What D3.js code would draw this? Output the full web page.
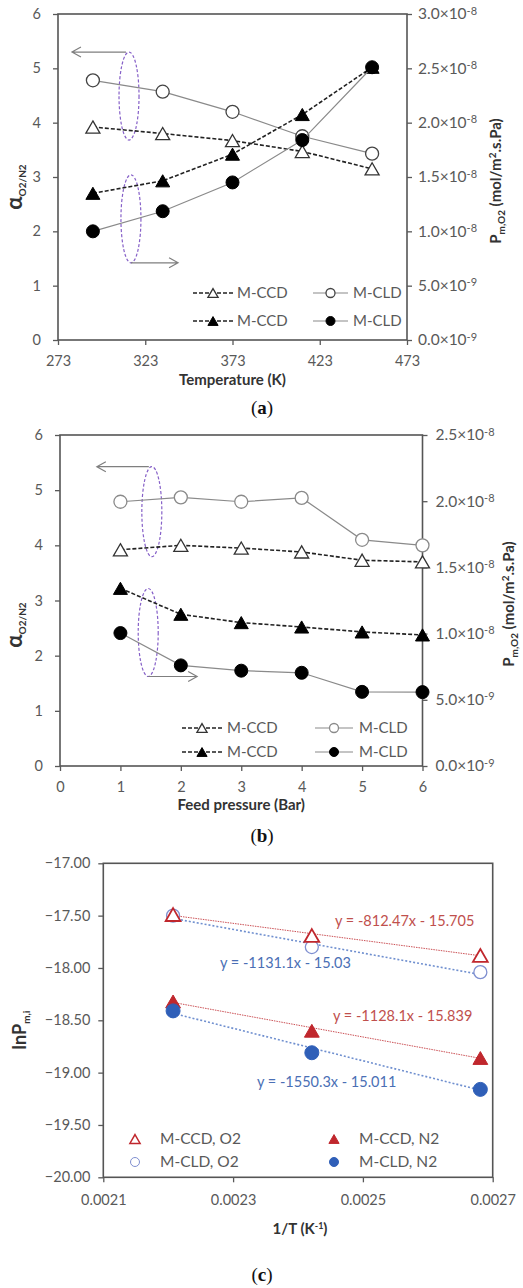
<!DOCTYPE html>
<html>
<head>
<meta charset="utf-8">
<script src="https://cdn.jsdelivr.net/npm/d3@7"></script>
<style>
body { margin: 0; background: #fff; }
text { font-family: Lato, "Open Sans", sans-serif; }
</style>
</head>
<body>
<svg id="chart" width="523" height="1288"></svg>
<script>

// (a) temperature series
var tempK = [293, 333, 373, 413, 453];
var alphaCCD_a = [3.92, 3.80, 3.67, 3.47, 3.15];
var alphaCLD_a = [4.78, 4.57, 4.20, 3.75, 3.43];
var permCCD_a = [1.35e-8, 1.465e-8, 1.71e-8, 2.075e-8, 2.51e-8];
var permCLD_a = [1.0e-8, 1.185e-8, 1.45e-8, 1.84e-8, 2.51e-8];
var tempTicks = [273, 323, 373, 423, 473];
var permTicks_a = [0, 5e-9, 1e-8, 1.5e-8, 2e-8, 2.5e-8, 3e-8];
var permLabels_a = [["0.0", "-9"], ["5.0", "-9"], ["1.0", "-8"], ["1.5", "-8"], ["2.0", "-8"], ["2.5", "-8"], ["3.0", "-8"]];

// (b) feed pressure series
var pressureBar = [1, 2, 3, 4, 5, 6];
var alphaCCD_b = [3.92, 4.00, 3.95, 3.88, 3.73, 3.70];
var alphaCLD_b = [4.79, 4.87, 4.79, 4.86, 4.10, 4.00];
var permCCD_b = [1.342e-8, 1.146e-8, 1.083e-8, 1.05e-8, 1.0125e-8, 0.99e-8];
var permCLD_b = [1.004e-8, 7.6e-9, 7.2e-9, 7.04e-9, 5.6e-9, 5.58e-9];
var pressureTicks = [0, 1, 2, 3, 4, 5, 6];
var permTicks_b = [0, 5e-9, 1e-8, 1.5e-8, 2e-8, 2.5e-8];
var permLabels_b = [["0.0", "-9"], ["5.0", "-9"], ["1.0", "-8"], ["1.5", "-8"], ["2.0", "-8"], ["2.5", "-8"]];

var alphaTicks = [0, 1, 2, 3, 4, 5, 6];

// (c) Arrhenius plot
var invT = [1 / 453, 1 / 413, 1 / 373];
var lnCCD_O2 = [-17.49, -17.69, -17.88];
var lnCLD_O2 = [-17.50, -17.80, -18.04];
var lnCCD_N2 = [-18.32, -18.60, -18.86];
var lnCLD_N2 = [-18.41, -18.81, -19.16];
var fitSlope = [-812.47, -1131.1, -1128.1, -1550.3];
var fitIntercept = [-15.705, -15.03, -15.839, -15.011];
var fitLabels = ["y = -812.47x - 15.705", "y = -1131.1x - 15.03", "y = -1128.1x - 15.839", "y = -1550.3x - 15.011"];
var invTTicks = [0.0021, 0.0023, 0.0025, 0.0027];
var lnTicks = [-20, -19.5, -19, -18.5, -18, -17.5, -17];
var legendC = ["M-CCD, O2", "M-CLD, O2", "M-CCD, N2", "M-CLD, N2"];

var AXIS = "#595959";
var RED = "#c0272d";
var BLUE = "#2f5fb8";
var LIGHTBLUE = "#7f8fd0";

var svg = d3.select("#chart");

function axisStyle(g) {
	g.select(".domain").remove();
	g.selectAll(".tick line").attr("stroke", AXIS).attr("stroke-width", 1.3);
	g.selectAll(".tick text").attr("fill", AXIS).style("font-size", "14.5px");
}

function triOffset(size) {
	return Math.sqrt(size / (Math.sqrt(3) * 3)) / 2;
}

function drawMarker(g, kind, cx, cy, filled, stroke, size, sw) {
	if (kind == "tri") {
		g.append("path")
		.attr("d", d3.symbol().type(d3.symbolTriangle).size(size)())
		.attr("transform", "translate(" + cx + "," + (cy + triOffset(size)) + ")")
		.attr("fill", filled ? stroke : "#fff")
		.attr("stroke", stroke)
		.attr("stroke-width", sw);
	} else {
		g.append("circle")
		.attr("cx", cx).attr("cy", cy).attr("r", size)
		.attr("fill", filled ? stroke : "#fff")
		.attr("stroke", stroke)
		.attr("stroke-width", sw);
	}
}

function drawSeries(g, xs, ys, x, y, s) {
	var line = d3.line().x(function (d, i) { return x(xs[i]); }).y(function (d) { return y(d); });
	g.append("path")
	.attr("d", line(ys))
	.attr("fill", "none")
	.attr("stroke", s.lineColor)
	.attr("stroke-width", s.lineWidth)
	.attr("stroke-dasharray", s.dash || null);
	ys.forEach(function (v, i) {
		drawMarker(g, s.kind, x(xs[i]), y(v), s.filled, s.markColor, s.size, s.sw);
	});
}

function drawArrow(g, x1, x2, yy) {
	var dir = x2 < x1 ? 1 : -1;
	g.append("path")
	.attr("d", "M" + x1 + "," + yy + "L" + x2 + "," + yy +
		"M" + (x2 + dir * 9) + "," + (yy - 5) + "L" + x2 + "," + yy + "L" + (x2 + dir * 9) + "," + (yy + 5))
	.attr("fill", "none")
	.attr("stroke", "#7f7f7f")
	.attr("stroke-width", 1.2);
}

function drawEllipse(g, cx, cy, ry) {
	g.append("ellipse")
	.attr("cx", cx).attr("cy", cy).attr("rx", 10).attr("ry", ry)
	.attr("fill", "none")
	.attr("stroke", "#8660c8")
	.attr("stroke-width", 1.2)
	.attr("stroke-dasharray", "3,2");
}

function caption(letter, cy) {
	var t = svg.append("text")
	.attr("x", 262).attr("y", cy)
	.attr("text-anchor", "middle")
	.style("font-family", "'Liberation Serif', serif")
	.style("font-size", "19px")
	.attr("fill", "#111");
	t.append("tspan").text("(");
	t.append("tspan").style("font-weight", "bold").text(letter);
	t.append("tspan").text(")");
}

var CCD_O = { kind: "tri", filled: false, markColor: "#333", size: 85, sw: 1.3, lineColor: "#222", lineWidth: 1.6, dash: "4,2" };
var CCD_F = { kind: "tri", filled: true, markColor: "#000", size: 85, sw: 1, lineColor: "#222", lineWidth: 1.6, dash: "4,2" };
var CLD_F = { kind: "circ", filled: true, markColor: "#000", size: 6.5, sw: 1, lineColor: "#8a8a8a", lineWidth: 1.2 };

function dualPanel(p) {
	var g = svg.append("g");
	var x = p.x, y = p.y, y2 = p.y2;
	var x0 = x.range()[0], x1 = x.range()[1], yb = y.range()[0], yt = y.range()[1];

	g.append("rect")
	.attr("x", x0).attr("y", yt).attr("width", x1 - x0).attr("height", yb - yt)
	.attr("fill", "none").attr("stroke", "#555").attr("stroke-width", 1.6);

	g.append("g").attr("transform", "translate(" + x0 + ",0)")
	.call(d3.axisLeft(y).tickValues(alphaTicks).tickSize(5).tickPadding(12).tickFormat(d3.format("d")))
	.call(axisStyle);

	g.append("g").attr("transform", "translate(0," + yb + ")")
	.call(d3.axisBottom(x).tickValues(p.xTicks).tickSize(5).tickPadding(11).tickFormat(d3.format("d")))
	.call(axisStyle);

	var ra = g.append("g").attr("transform", "translate(" + x1 + ",0)")
	.call(d3.axisRight(y2).tickValues(p.y2Ticks).tickSize(5).tickPadding(p.rightPad).tickFormat(function () { return ""; }))
	.call(axisStyle);
	ra.selectAll(".tick text").style("font-size", "15.5px").each(function (d, i) {
		var t = d3.select(this);
		t.append("tspan").text(p.y2Labels[i][0] + "\u00d710");
		t.append("tspan").attr("dy", "-0.45em").style("font-size", "11px").text(p.y2Labels[i][1]);
	});

	// annotations
	drawEllipse(g, x(p.ell1[0]), y(p.ell1[1]), p.ell1[2]);
	drawArrow(g, x(p.ell1[0]) - 3, x(p.arr1[0]), y(p.ell1[1]) - p.ell1[2]);
	drawEllipse(g, x(p.ell2[0]), y(p.ell2[1]), p.ell2[2]);
	drawArrow(g, x(p.ell2[0]), x(p.arr2[0]), y(p.ell2[1]) + p.ell2[2]);

	// series
	var CLD_O = { kind: "circ", filled: false, markColor: p.openCircle, size: 6.5, sw: 1.3, lineColor: "#8a8a8a", lineWidth: 1.2 };
	drawSeries(g, p.xs, p.alphaCCD, x, y, CCD_O);
	drawSeries(g, p.xs, p.alphaCLD, x, y, CLD_O);
	drawSeries(g, p.xs, p.permCCD, x, y2, CCD_F);
	drawSeries(g, p.xs, p.permCLD, x, y2, CLD_F);

	// legend
	var L = p.legend;
	var items = [[CCD_O, 0, 0], [CLD_O, 1, 0], [CCD_F, 0, 1], [CLD_F, 1, 1]];
	items.forEach(function (it) {
		var s = it[0], c = L.cols[it[1]], ry = L.rows[it[2]];
		g.append("line")
		.attr("x1", c[0]).attr("x2", c[1]).attr("y1", ry).attr("y2", ry)
		.attr("stroke", s.lineColor).attr("stroke-width", s.lineWidth)
		.attr("stroke-dasharray", s.dash || null);
		drawMarker(g, s.kind, (c[0] + c[1]) / 2, ry, s.filled, s.markColor, s.kind == "tri" ? 45 : 4.5, s.sw);
		g.append("text")
		.attr("x", c[2]).attr("y", ry).attr("dy", "0.35em")
		.attr("fill", AXIS).style("font-size", "15px")
		.text(s.kind == "tri" ? "M-CCD" : "M-CLD");
	});

	// titles
	g.append("text")
	.attr("x", (x0 + x1) / 2).attr("y", p.xTitleY)
	.attr("text-anchor", "middle")
	.attr("fill", "#333").style("font-size", "15px").style("font-weight", "bold")
	.text(p.xTitle);

	var ay = g.append("text")
	.attr("transform", "translate(22," + p.alphaY + ") rotate(-90)")
	.attr("text-anchor", "middle")
	.attr("fill", "#333").style("font-weight", "bold");
	ay.append("tspan").style("font-size", "22px").text("\u03b1");
	ay.append("tspan").attr("dy", "4").style("font-size", "10px").text("O2/N2");

	var py = g.append("text")
	.attr("transform", "translate(" + p.permX + "," + p.permY + ") rotate(-90)")
	.attr("text-anchor", "middle")
	.attr("fill", "#333").style("font-weight", "bold").style("font-size", "15px");
	py.append("tspan").text("P");
	py.append("tspan").attr("dy", "4").style("font-size", "10px").text("m,O2");
	py.append("tspan").attr("dy", "-4").text(" (mol/m");
	py.append("tspan").attr("dy", "-5").style("font-size", "10px").text("2");
	py.append("tspan").attr("dy", "5").text(".s.Pa)");
}

// ---------- (a)
var xA = d3.scaleLinear().domain([273, 473]).range([58, 407]);
var yA = d3.scaleLinear().domain([0, 6]).range([340, 14]);
var yA2 = d3.scaleLinear().domain([0, 3e-8]).range([340, 14]);

dualPanel({
	x: xA, y: yA, y2: yA2,
	xTicks: tempTicks, y2Ticks: permTicks_a, y2Labels: permLabels_a, rightPad: 6,
	xs: tempK, alphaCCD: alphaCCD_a, alphaCLD: alphaCLD_a, permCCD: permCCD_a, permCLD: permCLD_a,
	openCircle: "#444",
	ell1: [313.7, 4.49, 44], arr1: [281],
	ell2: [314.8, 2.23, 44], arr2: [341.8],
	legend: { rows: [293, 321], cols: [[193, 233, 237], [313, 348, 353]] },
	xTitle: "Temperature (K)", xTitleY: 385,
	alphaY: 187, permX: 501, permY: 181
});
caption("a", 414);

// ---------- (b)
var xB = d3.scaleLinear().domain([0, 6]).range([60, 422.5]);
var yB = d3.scaleLinear().domain([0, 6]).range([766, 435]);
var yB2 = d3.scaleLinear().domain([0, 2.5e-8]).range([766, 435]);

dualPanel({
	x: xB, y: yB, y2: yB2,
	xTicks: pressureTicks, y2Ticks: permTicks_b, y2Labels: permLabels_b, rightPad: 8,
	xs: pressureBar, alphaCCD: alphaCCD_b, alphaCLD: alphaCLD_b, permCCD: permCCD_b, permCLD: permCLD_b,
	openCircle: "#8a8a8a",
	ell1: [1.52, 4.61, 45], arr1: [0.61],
	ell2: [1.46, 2.42, 44], arr2: [2.27],
	legend: { rows: [728, 752], cols: [[182, 222, 227], [315, 353, 359]] },
	xTitle: "Feed pressure (Bar)", xTitleY: 810,
	alphaY: 625, permX: 514, permY: 604
});
caption("b", 842);

// ---------- (c)
var xC = d3.scaleLinear().domain([0.0021, 0.0027]).range([103.3, 492.7]);
var yC = d3.scaleLinear().domain([-20, -17]).range([1177.3, 863.3]);

var gC = svg.append("g");
gC.append("rect")
.attr("x", xC.range()[0]).attr("y", yC.range()[1])
.attr("width", xC.range()[1] - xC.range()[0]).attr("height", yC.range()[0] - yC.range()[1])
.attr("fill", "none").attr("stroke", "#555").attr("stroke-width", 1.6);

gC.append("g").attr("transform", "translate(" + xC.range()[0] + ",0)")
.call(d3.axisLeft(yC).tickValues(lnTicks).tickSize(5).tickPadding(8).tickFormat(d3.format(".2f")))
.call(axisStyle);

gC.append("g").attr("transform", "translate(0," + yC.range()[0] + ")")
.call(d3.axisBottom(xC).tickValues(invTTicks).tickSize(5).tickPadding(12).tickFormat(d3.format(".4f")))
.call(axisStyle);

// trendlines from the fitted equations
var fitColors = [RED, "#6f8fcf", RED, "#6f8fcf"];
var fitDash = ["1.5,1", "2,2", "1.5,1", "2,2"];
fitSlope.forEach(function (m, i) {
	var xa = invT[0], xb = invT[invT.length - 1];
	gC.append("line")
	.attr("x1", xC(xa)).attr("x2", xC(xb))
	.attr("y1", yC(m * xa + fitIntercept[i])).attr("y2", yC(m * xb + fitIntercept[i]))
	.attr("stroke", fitColors[i]).attr("stroke-width", i % 2 ? 1.6 : 1)
	.attr("stroke-dasharray", fitDash[i])
	.attr("opacity", i % 2 ? 1 : 0.8);
});

var seriesC = [
	{ ys: lnCLD_O2, kind: "circ", filled: false, color: LIGHTBLUE, size: 6.5, sw: 1.3 },
	{ ys: lnCCD_O2, kind: "tri", filled: false, color: RED, size: 95, sw: 1.8 },
	{ ys: lnCCD_N2, kind: "tri", filled: true, color: RED, size: 95, sw: 1 },
	{ ys: lnCLD_N2, kind: "circ", filled: true, color: BLUE, size: 7, sw: 1 }
];
seriesC.forEach(function (s) {
	s.ys.forEach(function (v, i) {
		drawMarker(gC, s.kind, xC(invT[i]), yC(v), s.filled, s.color, s.size, s.sw);
	});
});

// equation labels
var eqPos = [[335, 921, "#c0504d"], [220, 963, "#4a6fb5"], [333, 1016, "#c0504d"], [257, 1082, "#4a6fb5"]];
fitLabels.forEach(function (t, i) {
	gC.append("text")
	.attr("x", eqPos[i][0]).attr("y", eqPos[i][1]).attr("dy", "0.35em")
	.attr("fill", eqPos[i][2]).style("font-size", "14.5px")
	.text(t);
});

// legend
var legC = [
	[135, 1139, seriesC[1]], [135, 1162, seriesC[0]],
	[334, 1139, seriesC[2]], [334, 1162, seriesC[3]]
];
legC.forEach(function (l, i) {
	var s = l[2];
	drawMarker(gC, s.kind, l[0], l[1], s.filled, s.color, s.kind == "tri" ? 45 : 4.5, s.kind == "tri" && !s.filled ? 1.5 : 1);
	gC.append("text")
	.attr("x", l[0] + 25).attr("y", l[1]).attr("dy", "0.35em")
	.attr("fill", AXIS).style("font-size", "15.5px")
	.text(legendC[i]);
});

gC.append("text")
.attr("x", 300).attr("y", 1234)
.attr("text-anchor", "middle")
.attr("fill", "#333").style("font-size", "15px").style("font-weight", "bold")
.call(function (t) {
	t.append("tspan").text("1/T (K");
	t.append("tspan").attr("dy", "-5").style("font-size", "9px").text("-1");
	t.append("tspan").attr("dy", "5").text(")");
});

var lnLab = gC.append("text")
.attr("transform", "translate(26,1030) rotate(-90)")
.attr("text-anchor", "middle")
.attr("fill", "#333").style("font-weight", "bold").style("font-size", "18px");
lnLab.append("tspan").text("lnP");
lnLab.append("tspan").attr("dy", "4").style("font-size", "10px").text("m,i");

caption("c", 1281);

</script>
</body>
</html>
